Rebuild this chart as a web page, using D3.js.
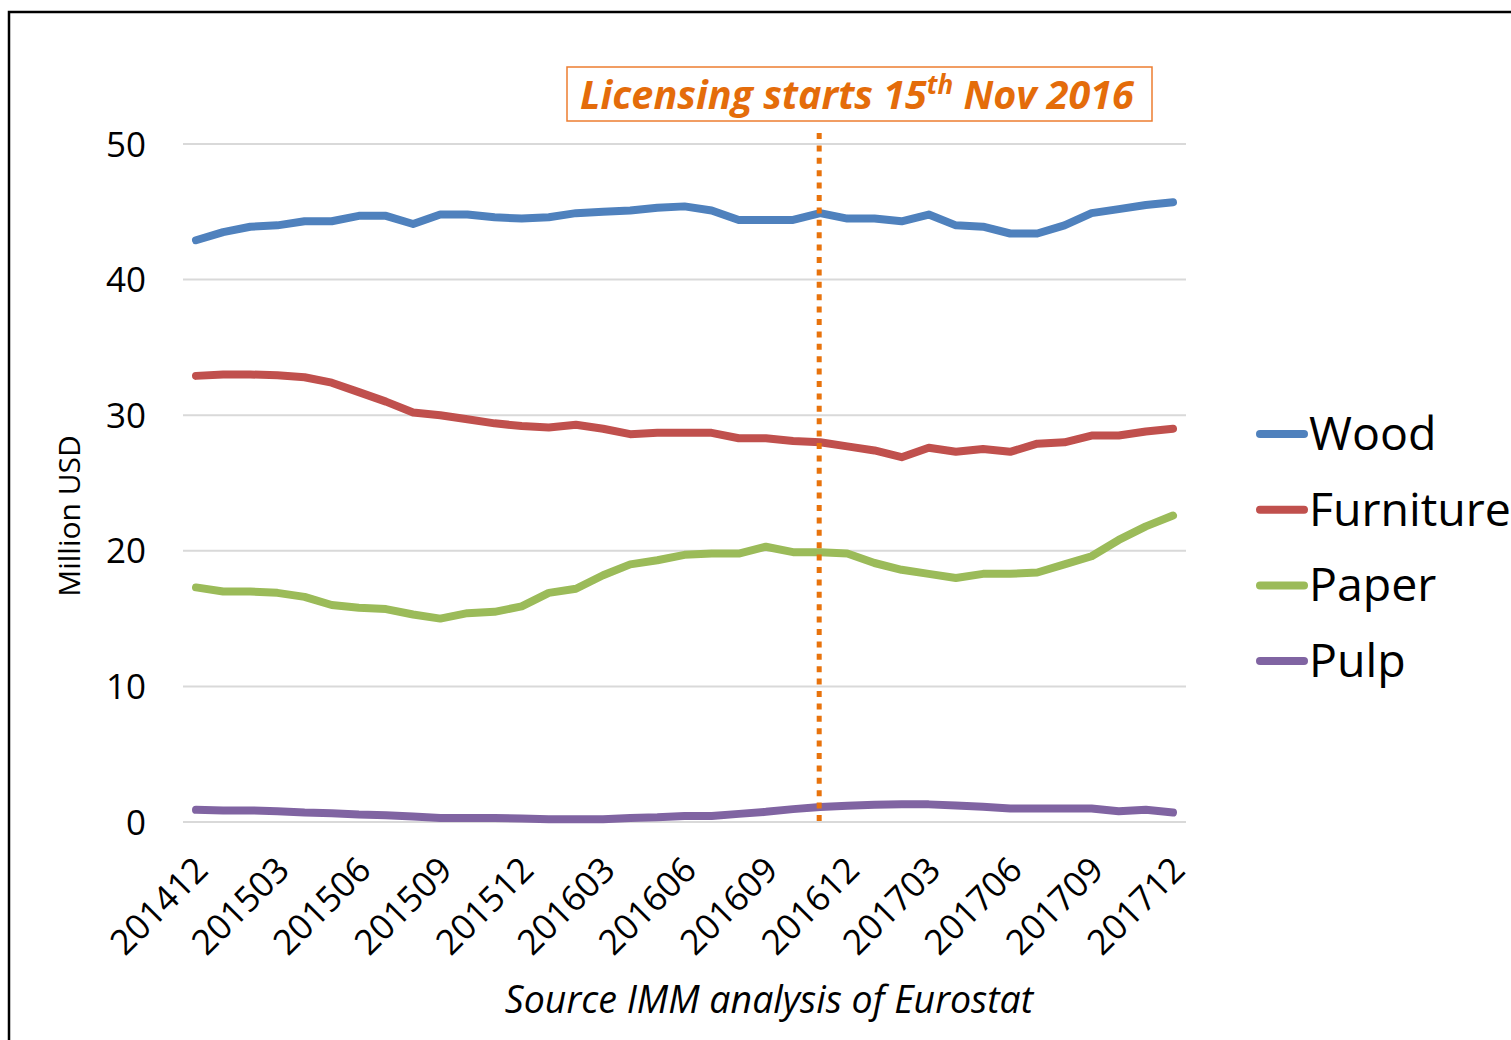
<!DOCTYPE html>
<html>
<head>
<meta charset="utf-8">
<script src="https://cdn.jsdelivr.net/npm/d3@7"></script>
<style>
  body { margin: 0; background: #fff; }
  svg { display: block; font-family: "Open Sans", sans-serif; }
</style>
</head>
<body>
<svg class="chart"></svg>
<script>
const months = ['201412','201501','201502','201503','201504','201505','201506','201507','201508','201509',
  '201510','201511','201512','201601','201602','201603','201604','201605','201606','201607',
  '201608','201609','201610','201611','201612','201701','201702','201703','201704','201705',
  '201706','201707','201708','201709','201710','201711','201712']
const tickMonths = ['201412','201503','201506','201509','201512','201603','201606','201609','201612','201703','201706','201709','201712']
const yTicks = [0, 10, 20, 30, 40, 50]

const wood = [42.9,43.5,43.9,44.0,44.3,44.3,44.7,44.7,44.1,44.8,44.8,44.6,44.5,44.6,44.9,45.0,45.1,45.3,45.4,45.1,
  44.4,44.4,44.4,44.9,44.5,44.5,44.3,44.8,44.0,43.9,43.4,43.4,44.0,44.9,45.2,45.5,45.7]
const furniture = [32.9,33.0,33.0,32.95,32.8,32.4,31.7,31.0,30.2,30.0,29.7,29.4,29.2,29.1,29.3,29.0,28.6,28.7,28.7,28.7,
  28.3,28.3,28.1,28.0,27.7,27.4,26.9,27.6,27.3,27.5,27.3,27.9,28.0,28.5,28.5,28.8,29.0]
const paper = [17.3,17.0,17.0,16.9,16.6,16.0,15.8,15.7,15.3,15.0,15.4,15.5,15.9,16.9,17.2,18.2,19.0,19.3,19.7,19.8,
  19.8,20.3,19.9,19.9,19.8,19.1,18.6,18.3,18.0,18.3,18.3,18.4,19.0,19.6,20.8,21.8,22.6]
const pulp = [0.9,0.85,0.85,0.8,0.7,0.65,0.55,0.5,0.4,0.3,0.3,0.3,0.25,0.2,0.2,0.2,0.3,0.35,0.45,0.45,
  0.6,0.75,0.95,1.1,1.2,1.28,1.3,1.3,1.22,1.13,1.0,1.0,1.0,1.0,0.8,0.9,0.7]

const seriesNames = ['Wood', 'Furniture', 'Paper', 'Pulp']
const seriesColors = ['#4F81BD', '#C0504D', '#9BBB59', '#8064A2']
const licenseMonth = '201611'

const series = [wood, furniture, paper, pulp].map((vals, i) => ({
  name: seriesNames[i], color: seriesColors[i], values: vals
}))

const totalWidth = 1511, totalHeight = 1040

const svg = d3.select('.chart')
  .attr('width', totalWidth)
  .attr('height', totalHeight)

// outer frame
svg.append('rect')
  .attr('x', 9).attr('y', 12)
  .attr('width', 1540).attr('height', 1060)
  .attr('fill', 'none')
  .attr('stroke', '#000')
  .attr('stroke-width', 2.5)

const x = d3.scalePoint()
  .domain(months)
  .range([196, 1173])

const y = d3.scaleLinear()
  .domain([0, 50])
  .range([822, 144])

// gridlines
svg.append('g')
  .selectAll('line')
  .data(yTicks)
  .enter()
  .append('line')
  .attr('x1', 183).attr('x2', 1186)
  .attr('y1', d => y(d)).attr('y2', d => y(d))
  .attr('stroke', '#D9D9D9')
  .attr('stroke-width', 2)

// y tick labels
svg.append('g')
  .selectAll('text')
  .data(yTicks)
  .enter()
  .append('text')
  .attr('x', 146)
  .attr('y', d => y(d))
  .attr('dy', '0.36em')
  .attr('text-anchor', 'end')
  .style('font-size', '35px')
  .attr('fill', '#000')
  .text(d => d)

// x tick labels
svg.append('g')
  .selectAll('text')
  .data(tickMonths)
  .enter()
  .append('text')
  .attr('transform', d => 'translate(' + (x(d) + 14) + ',872) rotate(-45)')
  .attr('text-anchor', 'end')
  .style('font-size', '35px')
  .attr('fill', '#000')
  .text(d => d)

// y axis title
svg.append('text')
  .attr('transform', 'translate(80,516) rotate(-90)')
  .attr('text-anchor', 'middle')
  .style('font-size', '30px')
  .text('Million USD')

// series lines
const line = d3.line()
  .x((d, i) => x(months[i]))
  .y(d => y(d))

svg.append('g')
  .selectAll('path')
  .data(series)
  .enter()
  .append('path')
  .attr('d', d => line(d.values))
  .attr('fill', 'none')
  .attr('stroke', d => d.color)
  .attr('stroke-width', 8)
  .attr('stroke-linecap', 'round')
  .attr('stroke-linejoin', 'round')

// licensing marker
svg.append('line')
  .attr('x1', x(licenseMonth) - 1).attr('x2', x(licenseMonth) - 1)
  .attr('y1', 133).attr('y2', y(0))
  .attr('stroke', '#E8730C')
  .attr('stroke-width', 5)
  .attr('stroke-dasharray', '6,6.4')

svg.append('rect')
  .attr('x', 567).attr('y', 67)
  .attr('width', 585).attr('height', 54)
  .attr('fill', '#fff')
  .attr('stroke', '#ED7D31')
  .attr('stroke-width', 1.5)

const note = svg.append('text')
  .attr('x', 857)
  .attr('y', 109)
  .attr('text-anchor', 'middle')
  .style('font-size', '39.5px')
  .style('font-weight', 'bold')
  .style('font-style', 'italic')
  .attr('fill', '#E46C0A')
note.append('tspan').text('Licensing starts 15')
note.append('tspan').attr('dy', -15).style('font-size', '26px').text('th')
note.append('tspan').attr('dy', 15).text(' Nov 2016')

// legend
const legend = svg.append('g')
  .selectAll('g')
  .data(series)
  .enter()
  .append('g')
  .attr('transform', (d, i) => 'translate(0,' + (434 + i * 75.7) + ')')

legend.append('line')
  .attr('x1', 1260).attr('x2', 1304)
  .attr('stroke', d => d.color)
  .attr('stroke-width', 8)
  .attr('stroke-linecap', 'round')

legend.append('text')
  .attr('x', 1309)
  .attr('y', 16)
  .style('font-size', '46.5px')
  .attr('fill', '#000')
  .text(d => d.name)

// source note
svg.append('text')
  .attr('x', 769)
  .attr('y', 1013)
  .attr('text-anchor', 'middle')
  .style('font-size', '37.5px')
  .style('font-style', 'italic')
  .text('Source IMM analysis of Eurostat')
</script>
</body>
</html>
